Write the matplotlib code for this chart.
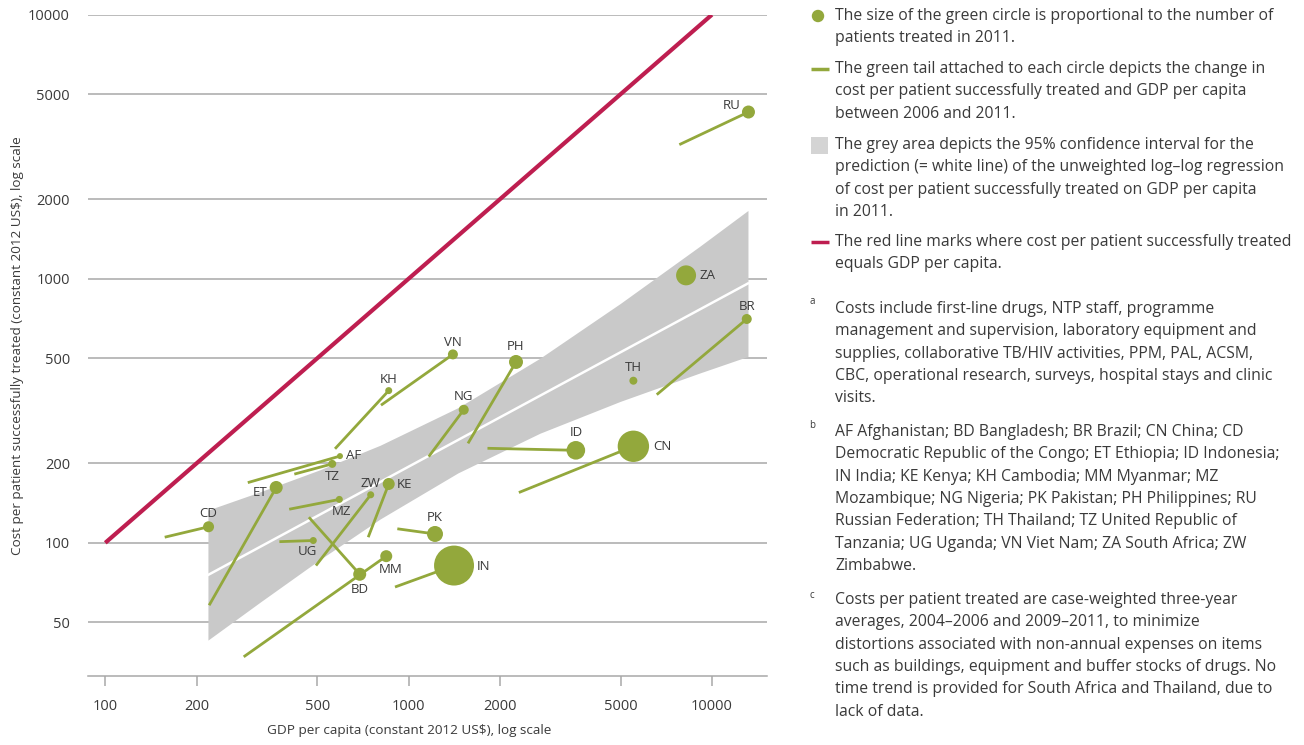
import numpy as np
import matplotlib
matplotlib.use("Agg")
import matplotlib.pyplot as plt
from matplotlib.ticker import FixedLocator, NullLocator, FixedFormatter

plt.rcParams["font.family"] = ["Open Sans", "DejaVu Sans"]

# datos
codes = ["RU", "ZA", "BR", "TH", "CN", "ID", "PH", "NG", "VN", "KH", "AF",
         "TZ", "ET", "CD", "MZ", "ZW", "KE", "UG", "BD", "MM", "PK", "IN"]
gdp_2011 = [13200, 8220, 13030, 5510, 5510, 3560, 2260, 1520, 1400, 860, 594,
            560, 366, 219, 591, 750, 860, 485, 690, 844, 1222, 1412]
cost_2011 = [4280, 1030, 704, 411, 232, 224, 484, 319, 517, 377, 213,
             199, 162, 115, 146, 152, 167, 102, 76, 89, 108, 82]
gdp_2006 = [7810, np.nan, 6580, np.nan, 2310, 1820, 1570, 1165, 811, 572, 295,
            420, 220, 157, 404, 495, 736, 375, 469, 286, 918, 902]
cost_2006 = [3220, np.nan, 364, np.nan, 155, 228, 238, 212, 332, 227, 169,
             182, 58, 105, 134, 82, 105, 101, 125, 37, 113, 68]
# pacientes tratados en 2011 (miles, estimado del tamaño del circulo)
patients = [127, 300, 75, 48, 740, 260, 147, 75, 75, 37, 27,
            48, 127, 91, 37, 37, 108, 37, 127, 108, 192, 1200]

# banda de confianza 95% y recta de regresion
band_gdp = [218, 324, 510, 805, 1455, 2710, 4980, 9140, 13150]
band_upper = [133, 156, 189, 234, 325, 500, 805, 1330, 1814]
band_lower = [42.8, 59.6, 86.4, 123, 184, 260, 343, 440, 508]
fit_gdp = [218, 13150]
fit_cost = [75.5, 960]

# linea costo = PIB
equal_line = [100, 10000]

xticks = [100, 200, 500, 1000, 2000, 5000, 10000]
yticks = [50, 100, 200, 500, 1000, 2000, 5000, 10000]

# posicion de las etiquetas (offset en pixeles, alineacion)
label_pos = {
    "RU": (-17, 7, "center"), "ZA": (13, 0, "left"), "BR": (0, 12, "center"),
    "TH": (0, 13, "center"), "CN": (20, 0, "left"), "ID": (0, 18, "center"),
    "PH": (0, 15, "center"), "NG": (0, 13, "center"), "VN": (0, 12, "center"),
    "KH": (0, 11, "center"), "AF": (6, 1, "left"), "TZ": (0, -13, "center"),
    "ET": (-16, -5, "center"), "CD": (0, 13, "center"), "MZ": (2, -12, "center"),
    "ZW": (0, 11, "center"), "KE": (8, -1, "left"), "UG": (-6, -11, "center"),
    "BD": (0, -15, "center"), "MM": (4, -13, "center"), "PK": (0, 16, "center"),
    "IN": (23, -1, "left"),
}

green = "#93A83C"
red = "#BE1E50"
grey_band = "#C9C9C9"
grid_col = "#A8A8A8"
txt_col = "#3A3A3A"

fig = plt.figure(figsize=(13.04, 7.45), dpi=100)
W, H = 1304, 745
ax = fig.add_axes([88 / W, (H - 676) / H, (766.7 - 88) / W, (676 - 14.7) / H])

ax.set_xscale("log")
ax.set_yscale("log")
ax.set_xlim(87.7, 15160)
ax.set_ylim(31.3, 10000)

ax.fill_between(band_gdp, band_lower, band_upper, color=grey_band, lw=0, zorder=1)
ax.plot(fit_gdp, fit_cost, color="white", lw=1.8, zorder=2)
ax.plot(equal_line, equal_line, color=red, lw=3, solid_capstyle="butt", zorder=3)

for i in range(len(codes)):
    if not np.isnan(gdp_2006[i]):
        ax.plot([gdp_2006[i], gdp_2011[i]], [cost_2006[i], cost_2011[i]],
                color=green, lw=2, solid_capstyle="butt", zorder=4)

ax.scatter(gdp_2011, cost_2011, s=np.array(patients) * 0.69, color=green,
           edgecolor="none", zorder=5)

for i, cd in enumerate(codes):
    dx, dy, ha = label_pos[cd]
    ax.annotate(cd, (gdp_2011[i], cost_2011[i]), xytext=(dx, dy),
                textcoords="offset pixels", ha=ha, va="center",
                fontsize=9.5, color=txt_col, zorder=6)

# ejes
ax.xaxis.set_major_locator(FixedLocator(xticks))
ax.xaxis.set_major_formatter(FixedFormatter([str(v) for v in xticks]))
ax.xaxis.set_minor_locator(NullLocator())
ax.yaxis.set_major_locator(FixedLocator(yticks))
ax.yaxis.set_major_formatter(FixedFormatter([str(v) for v in yticks]))
ax.yaxis.set_minor_locator(NullLocator())

for s in ["top", "right", "left"]:
    ax.spines[s].set_visible(False)
ax.spines["bottom"].set_color(grid_col)
ax.spines["bottom"].set_linewidth(1.1)
ax.grid(axis="y", color=grid_col, lw=1.1, zorder=0)
ax.set_axisbelow(True)
ax.tick_params(axis="x", length=7.5, width=1.1, color=grid_col, pad=9,
               labelsize=10.5, labelcolor=txt_col)
ax.tick_params(axis="y", length=0, pad=13, labelsize=10.5, labelcolor=txt_col)

ax.set_xlabel("GDP per capita (constant 2012 US$), log scale", fontsize=9.7,
              color=txt_col)
ax.xaxis.set_label_coords((409.5 - 88) / 678.7, (676 - 724) / 661.3)
ax.set_ylabel("Cost per patient successfully treated (constant 2012 US$), log scale",
              fontsize=9.7, color=txt_col)
ax.yaxis.set_label_coords((24 - 88) / 678.7, 0.5)

# panel derecho: leyenda y notas
ov = fig.add_axes([0, 0, 1, 1])
ov.set_xlim(0, W)
ov.set_ylim(H, 0)
ov.axis("off")

ov.scatter([818], [16], s=80, color=green, edgecolor="none")
ov.plot([811, 829], [69, 69], color=green, lw=2.5, solid_capstyle="butt")
ov.add_patch(plt.Rectangle((811, 137), 17, 17, color="#D4D4D4", lw=0))
ov.plot([811, 829], [242, 242], color=red, lw=2.5, solid_capstyle="butt")

leg1 = "The size of the green circle is proportional to the number of\npatients treated in 2011."
leg2 = ("The green tail attached to each circle depicts the change in\n"
        "cost per patient successfully treated and GDP per capita\n"
        "between 2006 and 2011.")
leg3 = ("The grey area depicts the 95% confidence interval for the\n"
        "prediction (= white line) of the unweighted log–log regression\n"
        "of cost per patient successfully treated on GDP per capita\n"
        "in 2011.")
leg4 = ("The red line marks where cost per patient successfully treated\n"
        "equals GDP per capita.")
note_a = ("Costs include first-line drugs, NTP staff, programme\n"
          "management and supervision, laboratory equipment and\n"
          "supplies, collaborative TB/HIV activities, PPM, PAL, ACSM,\n"
          "CBC, operational research, surveys, hospital stays and clinic\n"
          "visits.")
note_b = ("AF Afghanistan; BD Bangladesh; BR Brazil; CN China; CD\n"
          "Democratic Republic of the Congo; ET Ethiopia; ID Indonesia;\n"
          "IN India; KE Kenya; KH Cambodia; MM Myanmar; MZ\n"
          "Mozambique; NG Nigeria; PK Pakistan; PH Philippines; RU\n"
          "Russian Federation; TH Thailand; TZ United Republic of\n"
          "Tanzania; UG Uganda; VN Viet Nam; ZA South Africa; ZW\n"
          "Zimbabwe.")
note_c = ("Costs per patient treated are case-weighted three-year\n"
          "averages, 2004–2006 and 2009–2011, to minimize\n"
          "distortions associated with non-annual expenses on items\n"
          "such as buildings, equipment and buffer stocks of drugs. No\n"
          "time trend is provided for South Africa and Thailand, due to\n"
          "lack of data.")


def parrafo(texto, y0):
    for k, linea in enumerate(texto.split("\n")):
        ov.text(835, y0 + k * 22.3, linea, fontsize=11.3, color=txt_col,
                ha="left", va="center")


parrafo(leg1, 16)
parrafo(leg2, 69)
parrafo(leg3, 145)
parrafo(leg4, 242)
parrafo(note_a, 309)
parrafo(note_b, 432)
parrafo(note_c, 600)

for letra, y in [("a", 302), ("b", 426), ("c", 595)]:
    ov.text(812, y, letra, fontsize=7, color=txt_col, ha="center", va="center")

fig.savefig("out.png", dpi=100)
